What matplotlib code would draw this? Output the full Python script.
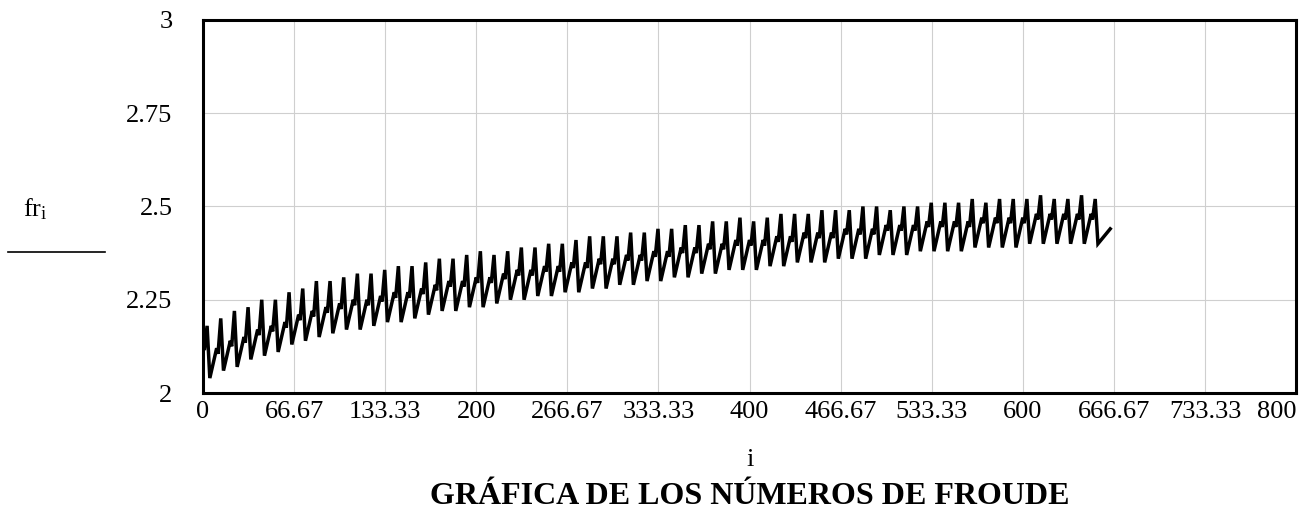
import numpy as np
import matplotlib
matplotlib.use('Agg')
from matplotlib import pyplot as plt
from matplotlib.lines import Line2D

# one entry per tooth of the zigzag (tooth k starts at i = 10*k)
tooth_start = np.arange(0, 660, 10)
shoulder = [2.13, 2.12, 2.14, 2.15, 2.17, 2.18, 2.19, 2.21, 2.22, 2.23,
            2.24, 2.25, 2.25, 2.26, 2.27, 2.27, 2.28, 2.29, 2.30, 2.30,
            2.31, 2.31, 2.32, 2.33, 2.33, 2.34, 2.34, 2.35, 2.35, 2.36,
            2.36, 2.37, 2.37, 2.38, 2.38, 2.39, 2.39, 2.40, 2.40, 2.41,
            2.41, 2.41, 2.42, 2.42, 2.43, 2.43, 2.43, 2.44, 2.44, 2.44,
            2.45, 2.45, 2.45, 2.46, 2.46, 2.46, 2.46, 2.47, 2.47, 2.47,
            2.47, 2.48, 2.48, 2.48, 2.48, 2.48]
peak = [2.18, 2.20, 2.22, 2.23, 2.25, 2.25, 2.27, 2.28, 2.30, 2.30,
        2.31, 2.32, 2.32, 2.33, 2.34, 2.34, 2.35, 2.36, 2.36, 2.37,
        2.38, 2.37, 2.38, 2.39, 2.39, 2.40, 2.40, 2.41, 2.42, 2.42,
        2.42, 2.43, 2.43, 2.44, 2.44, 2.45, 2.45, 2.46, 2.46, 2.47,
        2.46, 2.47, 2.48, 2.48, 2.48, 2.49, 2.49, 2.49, 2.50, 2.50,
        2.49, 2.50, 2.50, 2.51, 2.51, 2.51, 2.52, 2.51, 2.52, 2.52,
        2.52, 2.53, 2.52, 2.52, 2.53, 2.52]
trough = [2.04, 2.06, 2.07, 2.09, 2.10, 2.11, 2.13, 2.14, 2.15, 2.16,
          2.17, 2.17, 2.18, 2.19, 2.19, 2.20, 2.21, 2.22, 2.22, 2.23,
          2.23, 2.24, 2.25, 2.25, 2.26, 2.26, 2.27, 2.27, 2.28, 2.28,
          2.29, 2.29, 2.30, 2.30, 2.31, 2.31, 2.32, 2.32, 2.33, 2.33,
          2.33, 2.34, 2.34, 2.35, 2.35, 2.35, 2.36, 2.36, 2.36, 2.37,
          2.37, 2.37, 2.38, 2.38, 2.38, 2.38, 2.39, 2.39, 2.39, 2.39,
          2.40, 2.40, 2.40, 2.40, 2.40, 2.40]
end_i = 664
end_fr = 2.44

xticks = [0, 66.67, 133.33, 200, 266.67, 333.33, 400, 466.67, 533.33,
          600, 666.67, 733.33, 800]
xlabels = ['0', '66.67', '133.33', '200', '266.67', '333.33', '400',
           '466.67', '533.33', '600', '666.67', '733.33', '800']
yticks = [2, 2.25, 2.5, 2.75, 3]
ylabels = ['2', '2.25', '2.5', '2.75', '3']

# build the polyline: shoulder -> small dip -> peak -> trough, per tooth
xs, ys = [], []
for s, m, p, t in zip(tooth_start, shoulder, peak, trough):
    xs += [s, s + 1, s + 3, s + 5]
    ys += [m, m - 0.015, p, t]
xs.append(end_i)
ys.append(end_fr)

plt.rcParams['font.family'] = ['Liberation Serif', 'DejaVu Serif']
plt.rcParams['mathtext.fontset'] = 'custom'
plt.rcParams['mathtext.rm'] = 'Liberation Serif'
plt.rcParams['mathtext.it'] = 'Liberation Serif'

fig = plt.figure(figsize=(13.13, 5.24), dpi=100)
ax = fig.add_axes([0.1546, 0.25, 0.8325, 0.712])

ax.plot(xs, ys, color='black', lw=2.5, solid_joinstyle='miter')

ax.set_xlim(0, 800)
ax.set_ylim(2, 3)
ax.set_xticks(xticks)
ax.set_xticklabels(xlabels, fontsize=19)
ax.set_yticks(yticks)
ax.set_yticklabels(ylabels, fontsize=19)
ax.tick_params(length=0, pad=6)
ax.tick_params(axis='y', pad=22)
ax.grid(True, color='#cfcfcf', lw=0.8)
ax.set_axisbelow(True)
for sp in ax.spines.values():
    sp.set_linewidth(2.2)

# keep the last x label inside the canvas
xt = ax.get_xticklabels()
xt[-1].set_horizontalalignment('right')
xt[-1].set_x(xticks[-1])

fig.text(0.027, 0.6, r'$\mathrm{fr}_\mathrm{i}$', fontsize=19,
         ha='center', va='center')
fig.add_artist(Line2D([0.006, 0.08], [0.519, 0.519], color='black', lw=1.2,
                      transform=fig.transFigure))
fig.text(0.571, 0.122, 'i', fontsize=19, ha='center', va='center')
fig.text(0.571, 0.052, 'GRÁFICA DE LOS NÚMEROS DE FROUDE', fontsize=23,
         fontweight='bold', ha='center', va='center')

fig.savefig('out.png', dpi=100)
